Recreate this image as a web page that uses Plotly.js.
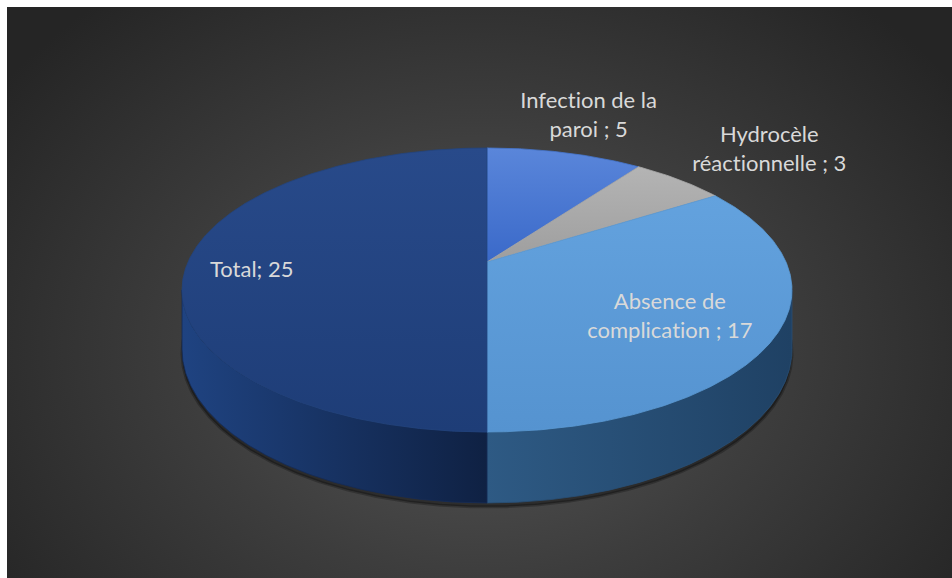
<!DOCTYPE html>
<html>
<head>
<meta charset="utf-8">
<script src="https://cdn.plot.ly/plotly-3.0.1.min.js"></script>
<style>
html,body{margin:0;padding:0;background:#ffffff;width:952px;height:578px;overflow:hidden}
#bg{position:absolute;left:7px;top:7px;width:945px;height:571px;
  background:radial-gradient(ellipse 62% 80% at 50% 60%, #585858 0%, #3d3d3d 50%, #252525 100%);}
#chart{position:absolute;left:0;top:0;width:952px;height:578px}
#chart text{font-variant-ligatures:none;font-feature-settings:"liga" 0, "clig" 0;}
</style>
</head>
<body>
<div id="bg"></div>
<div id="chart"></div>
<script>
// ---- data ----
const labels = ["Infection de la paroi", "Hydrocèle réactionnelle", "Absence de complication", "Total"];
const values = [5, 3, 17, 25];
const labelLines = ["Infection de la<br>paroi", "Hydrocèle<br>réactionnelle", "Absence de<br>complication", "Total"];
const separators = [" ; ", " ; ", " ; ", "; "];

// ---- styles ----
const topColors = [["#5a86da", "#3a69c9"], ["#b4b4b4", "#9e9e9e"], ["#63a2de", "#5593d0"], ["#284a8a", "#1e3d77"]];
const topLine = ["#4576cf", "#a8a8a8", "#5b9bd5", "#22447f"];
const sideColors = [["#3f6cc0", "#2c58a8"], ["#8a8a8a", "#777777"], ["#2e5a84", "#1f4164"], ["#1f4381", "#0f2143"]];
const sideLine = ["#355fb0", "#808080", "#284f76", "#142b57"];
const labelPos = [[588, 114], [769, 148], [670, 315], [252, 268]];

// ---- 3D pie projection ----
const CX = 487, CY = 262, A = 299, B = 136.5, K = 0.197, H = 57;
function proj(t) {
  const u = Math.sin(t), v = Math.cos(t), den = 1 + K * v;
  return [CX + A * u / den, CY - B * v / den];
}
function depth(t) { return H / (1 + K * Math.cos(t)); }
function arc(t1, t2, down) {
  const xs = [], ys = [];
  const n = Math.max(2, Math.ceil(Math.abs(t2 - t1) / (Math.PI / 360)));
  for (let i = 0; i <= n; i++) {
    const t = t1 + (t2 - t1) * i / n;
    const p = proj(t);
    xs.push(p[0]); ys.push(p[1] + (down ? depth(t) : 0));
  }
  return [xs, ys];
}

const total = values.reduce((s, v) => s + v, 0);
const angles = [];
let cum = 0;
values.forEach(v => { const a1 = 2 * Math.PI * cum / total; cum += v; angles.push([a1, 2 * Math.PI * cum / total]); });

const traces = [];
// soft shadow
{
  const [bx, by] = arc(0, 2 * Math.PI, true);
  traces.push({type: "scatter", mode: "lines", x: bx, y: by.map(y => y + 4),
    fill: "toself", fillcolor: "rgba(0,0,0,0.35)", line: {width: 3, color: "rgba(0,0,0,0.25)"},
    hoverinfo: "skip", showlegend: false});
}
// side walls
const vs1 = Math.acos(-K), vs2 = 2 * Math.PI - Math.acos(-K);
angles.forEach(([t1, t2], i) => {
  const a = Math.max(t1, vs1), b = Math.min(t2, vs2);
  if (a >= b) return;
  const [tx, ty] = arc(a, b, false);
  const [bx, by] = arc(b, a, true);
  const xs = tx.concat(bx), ys = ty.concat(by);
  xs.push(xs[0]); ys.push(ys[0]);
  traces.push({type: "scatter", mode: "lines", x: xs, y: ys, fill: "toself",
    fillgradient: {type: "horizontal", colorscale: [[0, sideColors[i][0]], [1, sideColors[i][1]]],
      start: Math.min(...xs), stop: Math.max(...xs)},
    line: {width: 0.8, color: sideLine[i]}, hoverinfo: "skip", showlegend: false});
});
// top faces
angles.forEach(([t1, t2], i) => {
  const [ax, ay] = arc(t1, t2, false);
  const xs = [CX].concat(ax, [CX]), ys = [CY].concat(ay, [CY]);
  traces.push({type: "scatter", mode: "lines", x: xs, y: ys, fill: "toself",
    fillgradient: {type: "vertical", colorscale: [[0, topColors[i][0]], [1, topColors[i][1]]],
      start: Math.min(...ys), stop: Math.max(...ys)},
    line: {width: 0.8, color: topLine[i]}, hoverinfo: "skip", showlegend: false, name: labels[i]});
});

const annotations = labels.map((l, i) => ({
  x: labelPos[i][0], y: labelPos[i][1], xref: "x", yref: "y",
  text: labelLines[i] + separators[i] + values[i], showarrow: false,
  xanchor: "center", yanchor: "middle", align: "center",
  font: {family: "Lato, 'Open Sans', sans-serif", size: 22, color: "#d9d9d9"}
}));

const layout = {
  width: 952, height: 578, margin: {l: 0, r: 0, t: 0, b: 0},
  paper_bgcolor: "rgba(0,0,0,0)", plot_bgcolor: "rgba(0,0,0,0)",
  xaxis: {range: [0, 952], visible: false, fixedrange: true},
  yaxis: {range: [578, 0], visible: false, fixedrange: true},
  showlegend: false, annotations: annotations, hovermode: false
};
Plotly.newPlot("chart", traces, layout, {displayModeBar: false, staticPlot: true});
</script>
</body>
</html>
